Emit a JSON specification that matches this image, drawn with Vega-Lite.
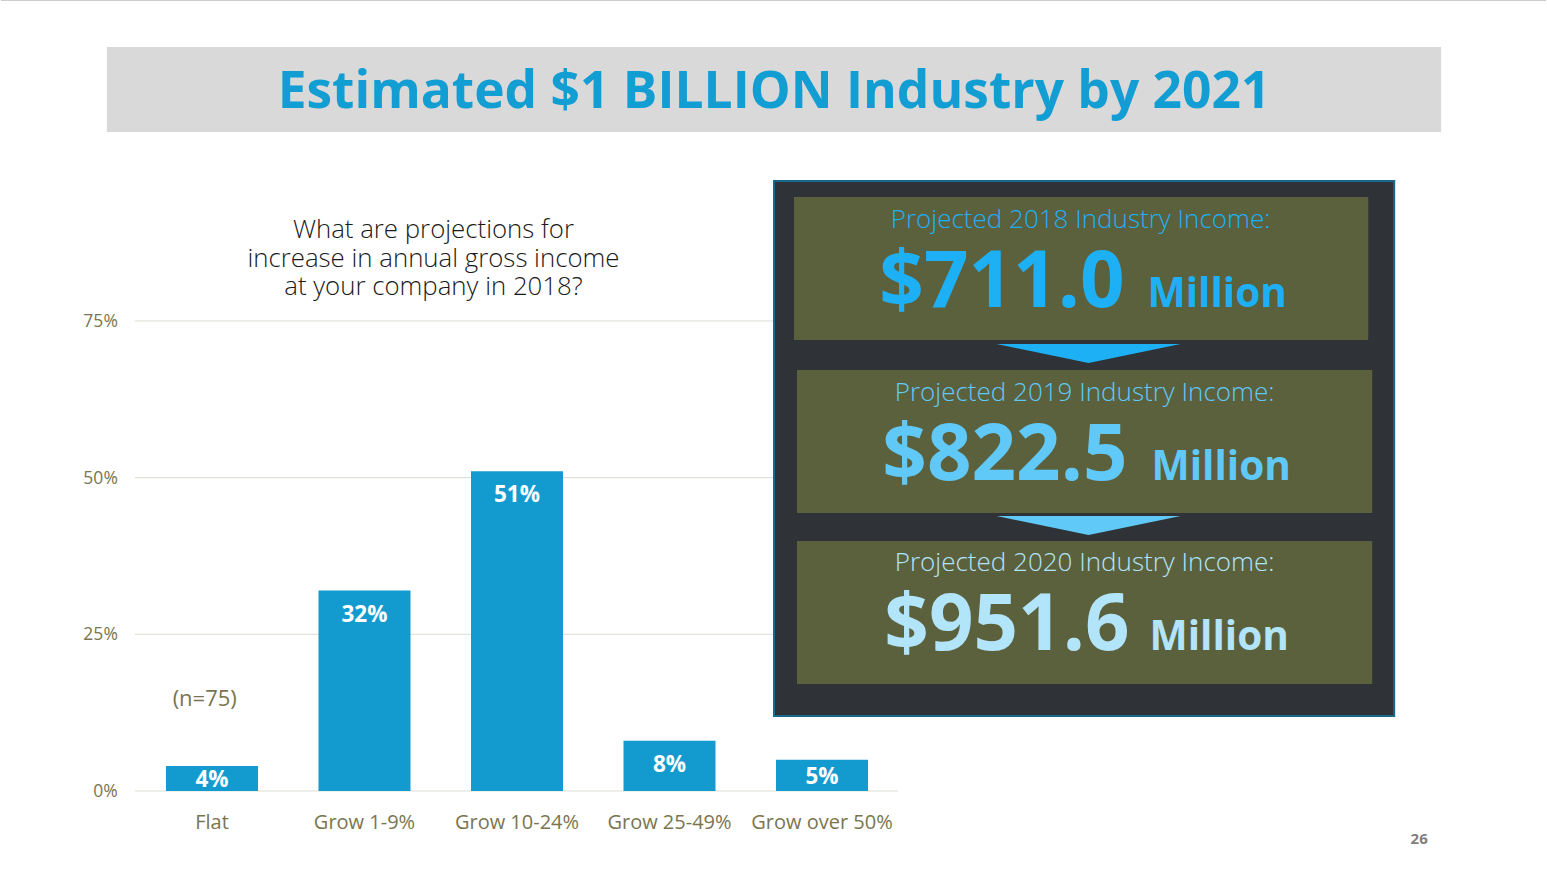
{
  "$schema": "https://vega.github.io/schema/vega-lite/v6.json",
  "width": 1547,
  "height": 871,
  "padding": 0,
  "autosize": {"type": "fit", "contains": "padding"},
  "background": "#ffffff",
  "config": {"view": {"stroke": null}, "font": "Open Sans"},
  "resolve": {"scale": {"x": "independent", "y": "independent", "color": "independent"}},
  "layer": [
    {
      "data": {"values": [{"pct": 0, "label": "0%"}, {"pct": 25, "label": "25%"}, {"pct": 50, "label": "50%"}, {"pct": 75, "label": "75%"}]},
      "layer": [
        {
          "mark": {"type": "rule", "color": "#dcdcd4", "strokeWidth": 1},
          "encoding": {
            "x": {"datum": 134, "type": "quantitative", "scale": {"domain": [0, 1547], "nice": false, "zero": false}, "axis": null},
            "x2": {"datum": 898},
            "y": {"field": "pct", "type": "quantitative", "scale": {"domain": [-12.766, 126.21], "nice": false, "zero": false}, "axis": null}
          }
        },
        {
          "mark": {"type": "text", "align": "right", "baseline": "middle", "fontSize": 17.5, "color": "#7a7550", "dy": 1},
          "encoding": {
            "x": {"datum": 117, "type": "quantitative"},
            "y": {"field": "pct", "type": "quantitative"},
            "text": {"field": "label"}
          }
        }
      ]
    },
    {
      "data": {"values": [
        {"category": "Flat", "value": 4},
        {"category": "Grow 1-9%", "value": 32},
        {"category": "Grow 10-24%", "value": 51},
        {"category": "Grow 25-49%", "value": 8},
        {"category": "Grow over 50%", "value": 5}
      ]},
      "encoding": {
        "x": {"field": "category", "type": "nominal", "sort": null,
              "scale": {"range": [134.75, 897.25], "paddingInner": 0.3967, "paddingOuter": 0.19835}, "axis": null}
      },
      "layer": [
        {
          "mark": {"type": "bar", "color": "#139bd0"},
          "encoding": {
            "y": {"field": "value", "type": "quantitative", "scale": {"domain": [-12.766, 126.21], "nice": false, "zero": false}, "axis": null},
            "y2": {"datum": 0}
          }
        },
        {
          "transform": [{"calculate": "max(datum.value - 3.6, datum.value / 2)", "as": "labelPos"}, {"calculate": "datum.value + '%'", "as": "valueLabel"}],
          "mark": {"type": "text", "align": "center", "baseline": "middle", "fontSize": 22.5, "fontWeight": "bold", "color": "#ffffff", "dy": 1.5},
          "encoding": {
            "y": {"field": "labelPos", "type": "quantitative"},
            "text": {"field": "valueLabel"}
          }
        },
        {
          "mark": {"type": "text", "align": "center", "baseline": "alphabetic", "fontSize": 20, "color": "#7a7550"},
          "encoding": {
            "y": {"datum": -6.1, "type": "quantitative"},
            "text": {"field": "category"}
          }
        }
      ],
      "resolve": {"scale": {"y": "shared"}}
    },
    {
      "encoding": {
        "x": {"field": "px", "type": "quantitative", "scale": {"domain": [0, 1547], "nice": false, "zero": false}, "axis": null},
        "y": {"field": "py", "type": "quantitative", "scale": {"domain": [0, 871], "nice": false, "zero": false, "reverse": true}, "axis": null}
      },
      "layer": [
        {
          "data": {"values": [{"px": 0, "px2": 1547, "py": 0.5}]},
          "mark": {"type": "rule", "color": "#cccccc", "strokeWidth": 1},
          "encoding": {"x2": {"field": "px2"}}
        },
        {
          "data": {"values": [{"px": 106, "px2": 1442, "py": 47, "py2": 132}]},
          "mark": {"type": "rect", "fill": "#d9d9d9"},
          "encoding": {"x2": {"field": "px2"}, "y2": {"field": "py2"}}
        },
        {
          "data": {"values": [{"px": 774, "py": 108, "t": "Estimated $1 BILLION Industry by 2021"}]},
          "mark": {"type": "text", "align": "center", "baseline": "alphabetic", "fontSize": 51.5, "fontWeight": "bold", "color": "#139ed3"},
          "encoding": {"text": {"field": "t"}}
        },
        {
          "data": {"values": [
            {"px": 433, "py": 238, "t": ["What are projections for", "increase in annual gross income", "at your company in 2018?"]}
          ]},
          "mark": {"type": "text", "align": "center", "baseline": "alphabetic", "fontSize": 25.8, "fontWeight": 300, "color": "#1a1a1a", "lineHeight": 28.5},
          "encoding": {"text": {"field": "t"}}
        },
        {
          "data": {"values": [{"px": 204, "py": 706, "t": "(n=75)"}]},
          "mark": {"type": "text", "align": "center", "baseline": "alphabetic", "fontSize": 22, "color": "#7a7550"},
          "encoding": {"text": {"field": "t"}}
        },
        {
          "data": {"values": [{"px": 1420, "py": 844, "t": "26"}]},
          "mark": {"type": "text", "align": "center", "baseline": "alphabetic", "fontSize": 15, "fontWeight": "bold", "color": "#7f7f7f"},
          "encoding": {"text": {"field": "t"}}
        },
        {
          "data": {"values": [{"px": 774, "px2": 1395, "py": 181, "py2": 716}]},
          "mark": {"type": "rect", "fill": "#2f3337", "stroke": "#17688b", "strokeWidth": 2},
          "encoding": {"x2": {"field": "px2"}, "y2": {"field": "py2"}}
        },
        {
          "data": {"values": [
            {"px": 794, "px2": 1369, "py": 197, "py2": 340},
            {"px": 797, "px2": 1373, "py": 370, "py2": 513},
            {"px": 797, "px2": 1373, "py": 541, "py2": 684}
          ]},
          "mark": {"type": "rect", "fill": "#5b603d"},
          "encoding": {"x2": {"field": "px2"}, "y2": {"field": "py2"}}
        },
        {
          "data": {"values": [
            {"px": 1089, "py": 353.5, "year": "2018"},
            {"px": 1089, "py": 525.5, "year": "2019"}
          ]},
          "mark": {"type": "point", "shape": "M-1,-0.1033L1,-0.1033L0,0.1033Z", "size": 33856, "filled": true, "opacity": 1, "strokeWidth": 0},
          "encoding": {
            "color": {"field": "year", "type": "nominal", "scale": {"domain": ["2018", "2019", "2020"], "range": ["#1eb0f5", "#60c9f8", "#b2e4fa"]}, "legend": null}
          }
        },
        {
          "data": {"values": [
            {"px": 1081, "py": 228, "year": "2018", "t": "Projected 2018 Industry Income:"},
            {"px": 1085, "py": 401, "year": "2019", "t": "Projected 2019 Industry Income:"},
            {"px": 1085, "py": 571, "year": "2020", "t": "Projected 2020 Industry Income:"}
          ]},
          "mark": {"type": "text", "align": "center", "baseline": "alphabetic", "fontSize": 26, "fontWeight": 300},
          "encoding": {
            "text": {"field": "t"},
            "color": {"field": "year", "type": "nominal", "scale": {"domain": ["2018", "2019", "2020"], "range": ["#1eb0f5", "#60c9f8", "#b2e4fa"]}, "legend": null}
          }
        },
        {
          "data": {"values": [
            {"px": 1125, "py": 307, "year": "2018", "t": "$711.0"},
            {"px": 1128, "py": 480, "year": "2019", "t": "$822.5"},
            {"px": 1130, "py": 650, "year": "2020", "t": "$951.6"}
          ]},
          "mark": {"type": "text", "align": "right", "baseline": "alphabetic", "fontSize": 78, "fontWeight": "bold"},
          "encoding": {
            "text": {"field": "t"},
            "color": {"field": "year", "type": "nominal", "scale": {"domain": ["2018", "2019", "2020"], "range": ["#1eb0f5", "#60c9f8", "#b2e4fa"]}, "legend": null}
          }
        },
        {
          "data": {"values": [
            {"px": 1148, "py": 307, "year": "2018", "t": "Million"},
            {"px": 1152, "py": 480, "year": "2019", "t": "Million"},
            {"px": 1150, "py": 650, "year": "2020", "t": "Million"}
          ]},
          "mark": {"type": "text", "align": "left", "baseline": "alphabetic", "fontSize": 40.5, "fontWeight": "bold"},
          "encoding": {
            "text": {"field": "t"},
            "color": {"field": "year", "type": "nominal", "scale": {"domain": ["2018", "2019", "2020"], "range": ["#1eb0f5", "#60c9f8", "#b2e4fa"]}, "legend": null}
          }
        }
      ]
    }
  ]
}
